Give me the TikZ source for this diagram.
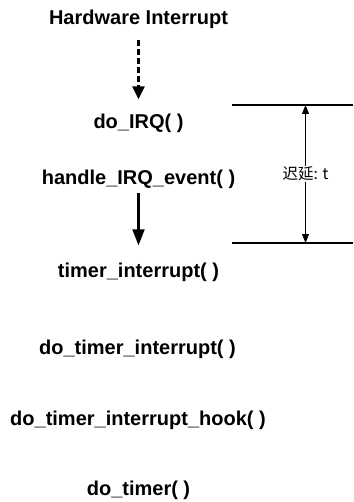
\documentclass[tikz,border=0pt]{standalone}
\usepackage{fontspec}
\setmainfont{Liberation Sans}
\newfontfamily\cjk{Noto Sans CJK SC}
\usetikzlibrary{arrows.meta}
\begin{document}
\begin{tikzpicture}[x=1pt,y=-1pt,
  fn/.style={font=\fontsize{20}{24}\selectfont\bfseries, inner sep=0pt, anchor=base},
  flow/.style={line width=2.4pt},
  mark line/.style={line width=1.4pt},
  span/.style={line width=0.9pt, {Triangle[length=9pt,width=7pt]}-{Triangle[length=9pt,width=7pt]}}]
\useasboundingbox (0,0) rectangle (353,502);
% call chain
\node[fn] (hw)   at (138.5,25)  {Hardware Interrupt};
\node[fn] (irq)  at (138.5,129) {do\_IRQ( )};
\node[fn] (hev)  at (138.5,185) {handle\_IRQ\_event( )};
\node[fn] (ti)   at (138.5,277) {timer\_interrupt( )};
\node[fn] (dti)  at (137.5,354) {do\_timer\_interrupt( )};
\node[fn] (hook) at (138,425) {do\_timer\_interrupt\_hook( )};
\node[fn] (dt)   at (138.5,495) {do\_timer( )};
\draw[flow, line width=3pt, dash pattern=on 6pt off 3pt, shorten <=11pt, shorten >=15pt,
      -{Triangle[length=13pt,width=12pt]}] (hw.south) -- (irq.north);
\draw[flow, line width=2.2pt, shorten <=4pt, shorten >=17pt,
      -{Triangle[length=16pt,width=12pt]}] (hev.south) -- (ti.north);
% latency markers
\coordinate (topL) at (232,105);
\coordinate (topR) at (353,105);
\coordinate (botL) at (232,243);
\coordinate (botR) at (353,243);
\coordinate (spanT) at (305.5,105);
\coordinate (spanB) at (305.5,243);
\draw[mark line] (topL) -- (topR);
\draw[mark line] (botL) -- (botR);
\draw[span] (spanT) -- (spanB)
  node[midway, fill=white, inner sep=1pt, font=\cjk\fontsize{15.5}{18}\selectfont] (lat) {迟延: t};
\end{tikzpicture}
\end{document}
